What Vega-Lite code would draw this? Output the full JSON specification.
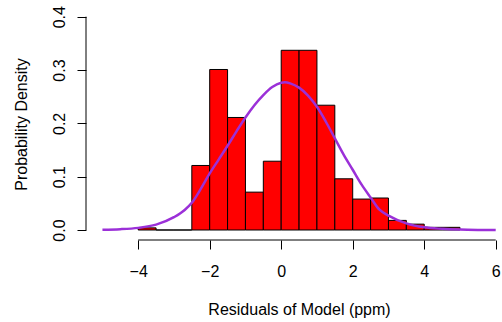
{
  "$schema": "https://vega.github.io/schema/vega-lite/v6.json",
  "autosize": "none",
  "width": 416,
  "height": 232,
  "padding": {"left": 86, "top": 8, "right": 0, "bottom": 82},
  "background": "white",
  "config": {
    "view": {"stroke": null},
    "font": "Liberation Sans",
    "axis": {"grid": false, "domain": false, "tickColor": "black", "tickSize": 9, "labelColor": "black", "titleColor": "black", "labelFontSize": 16, "titleFontSize": 16, "titleFontWeight": "normal", "labelFont": "Liberation Sans", "titleFont": "Liberation Sans"}
  },
  "datasets": {
    "hist": [
      {"start": -4.0, "end": -3.5, "density": 0.004},
      {"start": -3.5, "end": -3.0, "density": 0},
      {"start": -3.0, "end": -2.5, "density": 0},
      {"start": -2.5, "end": -2.0, "density": 0.121},
      {"start": -2.0, "end": -1.5, "density": 0.301},
      {"start": -1.5, "end": -1.0, "density": 0.211},
      {"start": -1.0, "end": -0.5, "density": 0.071},
      {"start": -0.5, "end": 0.0, "density": 0.129},
      {"start": 0.0, "end": 0.5, "density": 0.337},
      {"start": 0.5, "end": 1.0, "density": 0.337},
      {"start": 1.0, "end": 1.5, "density": 0.234},
      {"start": 1.5, "end": 2.0, "density": 0.096},
      {"start": 2.0, "end": 2.5, "density": 0.058},
      {"start": 2.5, "end": 3.0, "density": 0.060},
      {"start": 3.0, "end": 3.5, "density": 0.018},
      {"start": 3.5, "end": 4.0, "density": 0.011},
      {"start": 4.0, "end": 4.5, "density": 0.005},
      {"start": 4.5, "end": 5.0, "density": 0.005}
    ],
    "kde": [
      {"x": -5.0, "y": 0.0005},
      {"x": -4.5, "y": 0.0015},
      {"x": -4.0, "y": 0.004},
      {"x": -3.5, "y": 0.010},
      {"x": -3.0, "y": 0.024},
      {"x": -2.7, "y": 0.0375},
      {"x": -2.5, "y": 0.051},
      {"x": -2.25, "y": 0.077},
      {"x": -2.0, "y": 0.106},
      {"x": -1.75, "y": 0.132},
      {"x": -1.5, "y": 0.158},
      {"x": -1.25, "y": 0.185},
      {"x": -1.0, "y": 0.211},
      {"x": -0.75, "y": 0.234},
      {"x": -0.5, "y": 0.253},
      {"x": -0.25, "y": 0.268},
      {"x": 0.0, "y": 0.276},
      {"x": 0.1, "y": 0.277},
      {"x": 0.25, "y": 0.275},
      {"x": 0.5, "y": 0.267},
      {"x": 0.75, "y": 0.252},
      {"x": 1.0, "y": 0.231},
      {"x": 1.25, "y": 0.203},
      {"x": 1.5, "y": 0.172},
      {"x": 1.75, "y": 0.141},
      {"x": 2.0, "y": 0.113},
      {"x": 2.25, "y": 0.085},
      {"x": 2.5, "y": 0.061},
      {"x": 2.75, "y": 0.038},
      {"x": 3.0, "y": 0.027},
      {"x": 3.5, "y": 0.0125},
      {"x": 4.0, "y": 0.005},
      {"x": 4.5, "y": 0.0022},
      {"x": 5.0, "y": 0.0008},
      {"x": 5.5, "y": 0.0002},
      {"x": 6.0, "y": 0.0}
    ]
  },
  "layer": [
    {
      "data": {"name": "hist"},
      "mark": {"type": "rect", "fill": "#FF0000", "stroke": "black", "strokeWidth": 1},
      "encoding": {
        "x": {"field": "start", "type": "quantitative",
          "scale": {"domain": [-5.46, 6.176], "nice": false, "zero": false},
          "axis": {"values": [-4, -2, 0, 2, 4, 6], "title": "Residuals of Model (ppm)", "labelPadding": 14, "titlePadding": 22, "titleX": 213}},
        "x2": {"field": "end"},
        "y": {"field": "density", "type": "quantitative",
          "scale": {"domain": [-0.01875, 0.4163], "nice": false, "zero": false},
          "axis": {"values": [0, 0.1, 0.2, 0.3, 0.4], "format": ".1f", "title": "Probability Density", "labelAngle": -90, "labelAlign": "center", "labelBaseline": "bottom", "labelPadding": 10, "titlePadding": 22}},
        "y2": {"datum": 0}
      }
    },
    {
      "data": {"name": "kde"},
      "mark": {"type": "line", "color": "#9B30D8", "strokeWidth": 2.5, "interpolate": "monotone"},
      "encoding": {
        "x": {"field": "x", "type": "quantitative"},
        "y": {"field": "y", "type": "quantitative"}
      }
    },
    {
      "data": {"values": [{}]},
      "mark": {"type": "rule", "color": "black", "strokeWidth": 1},
      "encoding": {
        "x": {"datum": -4},
        "x2": {"datum": 6},
        "y": {"datum": -0.01875}
      }
    },
    {
      "data": {"values": [{}]},
      "mark": {"type": "rule", "color": "black", "strokeWidth": 1},
      "encoding": {
        "x": {"datum": -5.46},
        "y": {"datum": 0},
        "y2": {"datum": 0.4}
      }
    }
  ]
}
